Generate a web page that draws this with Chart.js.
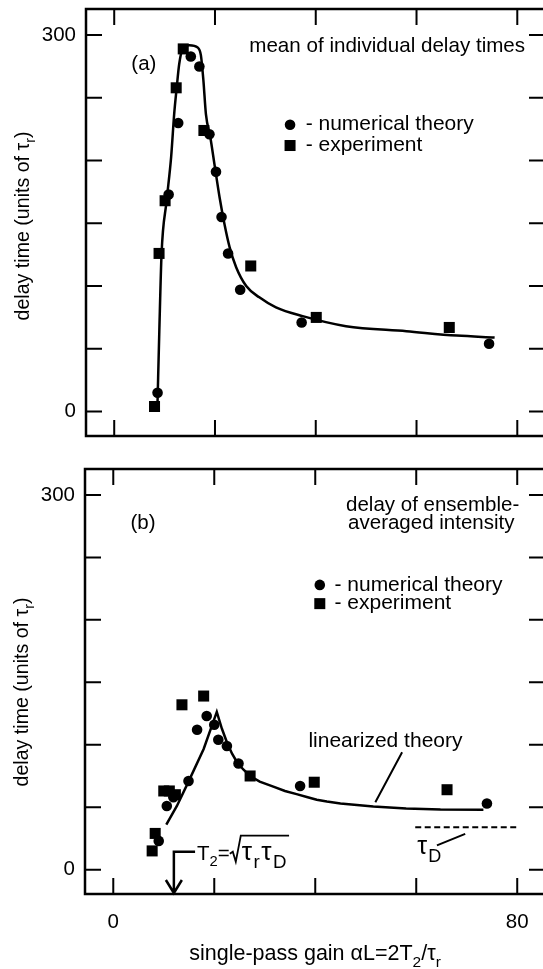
<!DOCTYPE html>
<html>
<head>
<meta charset="utf-8">
<script src="https://cdn.jsdelivr.net/npm/chart.js@4.4.0/dist/chart.umd.min.js"></script>
<style>
  html, body { margin: 0; padding: 0; background: #fff; overflow: hidden; }
  #wrap { position: relative; width: 543px; height: 969px; overflow: hidden; }
  canvas { position: absolute; left: 0; }
</style>
</head>
<body>
<div id="wrap">
  <canvas id="chartA" width="560" height="450" style="top:0"></canvas>
  <canvas id="chartB" width="560" height="519" style="top:450px"></canvas>
</div>
<script>
const FONT = '"Liberation Sans", Arial, Helvetica, sans-serif';
Chart.defaults.font.family = FONT;
Chart.defaults.color = '#000';

// axes
const xRange = [-5.6, 85.5];
const yRange = [-19.5, 320.8];
const xTicks = [0, 20, 40, 60, 80];
const yTicks = [0, 50, 100, 150, 200, 250, 300];
const xLabels = [0, 80];
const yLabels = [0, 300];
const legendLabels = ['- numerical theory', '- experiment'];

// panel (a): mean of individual delay times
const aTheoryX = [8.6, 10.8, 12.7, 15.2, 16.9, 18.9, 20.2, 21.3, 22.6, 25.0, 37.2, 74.4];
const aTheoryY = [15, 173, 230, 283, 275, 221, 191, 155, 126, 97, 71, 54];
const aExpX = [8.0, 8.9, 10.1, 12.3, 13.7, 17.8, 27.1, 40.1, 66.5];
const aExpY = [4, 126, 168, 258, 289, 224, 116, 75, 67];
const aCurveX = [8.6, 8.95, 9.4, 10.4, 11.3, 11.9, 12.4, 12.9, 13.6, 14.9, 16.6, 17.2, 17.7, 18.2, 19.1, 19.9, 20.9, 21.9, 22.9, 24.2, 26.2, 28.8, 32.1, 37.4, 46, 58, 68, 75.5];
const aCurveY = [8, 64, 126, 168, 203, 237, 258, 277, 289, 292, 290, 284, 264, 237, 218, 197, 171, 149, 131, 115, 100, 91, 83, 76, 68, 64, 60.5, 59];

// panel (b): delay of ensemble-averaged intensity
const bTheoryX = [9.0, 10.6, 11.9, 14.9, 16.6, 18.5, 20.0, 20.8, 22.5, 24.8, 37.0, 74.0];
const bTheoryY = [23, 51, 58, 71, 112, 123, 116, 104, 99, 85, 67, 53];
const bExpX = [7.7, 8.3, 10.0, 11.1, 12.3, 13.6, 17.9, 27.1, 39.8, 66.1];
const bExpY = [15, 29, 63, 63, 60, 132, 139, 75, 70, 64];
const bLinX = [10.5, 12.6, 14.9, 17.9, 20.5, 21.5, 22.5, 23.5, 24.5, 25.8, 27.1, 29, 31.7, 34, 36.3, 38.5, 40.3, 42.3, 45, 51.5, 58, 64.8, 73.3];
const bLinY = [36, 51, 70.5, 96.6, 126.3, 113, 102, 93, 86, 80, 75, 70.5, 66.5, 63, 60.5, 58, 56, 54.5, 53, 50.5, 49, 48.1, 47.9];
const tauDX = [59.8, 79.8];
const tauDY = [34, 34];

const TXT = 20.5;

function zip(xs, ys) {
    return xs.map((x, i) => ({x: x, y: ys[i]}));
}

function f(size) {
    return size + 'px ' + FONT;
}

// text with subscripts, parts = [[text, isSub], ...]
function rich(ctx, parts, x, y, size, align, gap) {
    gap = gap || 0;
    let w = 0;
    parts.forEach(p => {
        ctx.font = f(p[1] ? size * 0.72 : size);
        w += ctx.measureText(p[0]).width + gap;
    });
    let cx = align == 'center' ? x - w / 2 : x;
    ctx.textBaseline = 'alphabetic';
    ctx.textAlign = 'left';
    parts.forEach(p => {
        ctx.font = f(p[1] ? size * 0.72 : size);
        ctx.fillText(p[0], cx, p[1] ? y + size * 0.32 : y);
        cx += ctx.measureText(p[0]).width + gap;
    });
    return cx;
}

function yTitle(ctx, cx, cy) {
    ctx.save();
    ctx.translate(cx + 7, cy);
    ctx.rotate(-Math.PI / 2);
    rich(ctx, [['delay time (units of \u03c4', 0], ['r', 1], [')', 0]], 0, 0, 19.6, 'center');
    ctx.restore();
}

function legendKey(ctx, mx, yc, ys, tx) {
    ctx.beginPath();
    ctx.arc(mx, yc, 5.3, 0, Math.PI * 2);
    ctx.fill();
    ctx.fillRect(mx - 5.5, ys - 5.5, 11, 11);
    ctx.font = f(21);
    ctx.textBaseline = 'middle';
    ctx.textAlign = 'left';
    ctx.fillText(legendLabels[0], tx, yc);
    ctx.fillText(legendLabels[1], tx, ys);
}

const framePlugin = {
    id: 'frame',
    afterDatasetsDraw(chart) {
        const ctx = chart.ctx;
        const a = chart.chartArea;
        const x = chart.scales.x, y = chart.scales.y;
        const len = 16;
        ctx.save();
        ctx.strokeStyle = '#000';
        ctx.lineWidth = 2;
        ctx.beginPath();
        yTicks.forEach(v => {
            const py = y.getPixelForValue(v);
            ctx.moveTo(a.left, py); ctx.lineTo(a.left + len, py);
            ctx.moveTo(a.right, py); ctx.lineTo(a.right - len, py);
        });
        xTicks.forEach(v => {
            const px = x.getPixelForValue(v);
            ctx.moveTo(px, a.top); ctx.lineTo(px, a.top + len);
            ctx.moveTo(px, a.bottom); ctx.lineTo(px, a.bottom - len);
        });
        ctx.stroke();
        ctx.lineWidth = 2.5;
        ctx.strokeRect(a.left, a.top, a.right - a.left, a.bottom - a.top);
        ctx.restore();
    }
};

const notesA = {
    id: 'notesA',
    afterDraw(chart) {
        const ctx = chart.ctx;
        const x = chart.scales.x, y = chart.scales.y;
        ctx.save();
        ctx.fillStyle = '#000';
        ctx.font = f(TXT);
        ctx.textBaseline = 'middle';
        ctx.fillText('(a)', x.getPixelForValue(3.4), y.getPixelForValue(277));
        ctx.font = f(20.6);
        ctx.fillText('mean of individual delay times', x.getPixelForValue(26.8), y.getPixelForValue(291));
        legendKey(ctx, x.getPixelForValue(34.9), y.getPixelForValue(228.6), y.getPixelForValue(212), x.getPixelForValue(38));
        yTitle(ctx, 22, 226);
        ctx.restore();
    }
};

const notesB = {
    id: 'notesB',
    afterDraw(chart) {
        const ctx = chart.ctx;
        const a = chart.chartArea;
        const x = chart.scales.x, y = chart.scales.y;
        ctx.save();
        ctx.fillStyle = '#000';
        ctx.strokeStyle = '#000';
        ctx.font = f(TXT);
        ctx.textBaseline = 'middle';
        ctx.fillText('(b)', x.getPixelForValue(3.4), y.getPixelForValue(277));
        ctx.fillText('delay of ensemble-', x.getPixelForValue(46.1), y.getPixelForValue(292));
        ctx.fillText('averaged intensity', x.getPixelForValue(46.5), y.getPixelForValue(277));
        legendKey(ctx, x.getPixelForValue(40.9), y.getPixelForValue(228), y.getPixelForValue(213), x.getPixelForValue(43.8));

        ctx.textAlign = 'center';
        ctx.font = f(21);
        ctx.fillText('linearized theory', x.getPixelForValue(53.9), y.getPixelForValue(103));

        // leader lines
        ctx.lineWidth = 2;
        ctx.beginPath();
        ctx.moveTo(x.getPixelForValue(51.9), y.getPixelForValue(54));
        ctx.lineTo(x.getPixelForValue(57.2), y.getPixelForValue(94));
        ctx.moveTo(x.getPixelForValue(64.1), y.getPixelForValue(19.4));
        ctx.lineTo(x.getPixelForValue(69.7), y.getPixelForValue(28.7));
        ctx.stroke();

        // tau_D label
        rich(ctx, [['\u03c4', 0], ['D', 1]], x.getPixelForValue(60.2), y.getPixelForValue(12.8), 25, 'left', 1);

        // arrow at T2 = sqrt(tau_r tau_D)
        const ax = x.getPixelForValue(12);
        const atop = y.getPixelForValue(14.4);
        const tip = a.bottom - 1;
        ctx.lineWidth = 2.5;
        ctx.beginPath();
        ctx.moveTo(x.getPixelForValue(16.2), atop);
        ctx.lineTo(ax, atop);
        ctx.lineTo(ax, tip);
        ctx.moveTo(ax - 8, tip - 13);
        ctx.lineTo(ax, tip);
        ctx.lineTo(ax + 8, tip - 13);
        ctx.stroke();

        const by = y.getPixelForValue(8);
        let cx = rich(ctx, [['T', 0], ['2', 1], ['=', 0]], x.getPixelForValue(16.6), by, 20.5, 'left');
        const rest = [['\u03c4', 0], ['r', 1], ['\u03c4', 0], ['D', 1]];
        ctx.lineWidth = 1.8;
        ctx.beginPath();
        ctx.moveTo(cx, by - 6);
        ctx.lineTo(cx + 3, by - 8);
        ctx.lineTo(cx + 6, by + 2);
        ctx.lineTo(cx + 11, by - 24);
        const end = rich(ctx, rest, cx + 12, by, 26, 'left', 1.5);
        ctx.lineTo(end + 1, by - 24);
        ctx.stroke();

        // axis titles
        yTitle(ctx, 21, 242);
        rich(ctx, [['single-pass gain \u03b1L=2T', 0], ['2', 1], ['/\u03c4', 0], ['r', 1]], 315, 510, 21.5, 'center');
        ctx.restore();
    }
};

function makeOptions(padding, yWidth, showX) {
    return {
        animation: false,
        responsive: false,
        events: [],
        layout: {padding: padding},
        plugins: {legend: {display: false}, tooltip: {enabled: false}},
        scales: {
            x: {
                type: 'linear',
                min: xRange[0],
                max: xRange[1],
                display: showX,
                grid: {display: false, drawTicks: false},
                border: {display: false},
                afterBuildTicks: s => { s.ticks = xLabels.map(v => ({value: v})); },
                afterFit: s => {
                    s.height = showX ? 75 : 0;
                    s.paddingLeft = 0; s.paddingRight = 0;
                },
                ticks: {font: {size: 20.5}, color: '#000', padding: 16, maxRotation: 0}
            },
            y: {
                type: 'linear',
                min: yRange[0],
                max: yRange[1],
                grid: {display: false, drawTicks: false},
                border: {display: false},
                afterBuildTicks: s => { s.ticks = yLabels.map(v => ({value: v})); },
                afterFit: s => {
                    s.width = yWidth;
                    s.paddingTop = 0; s.paddingBottom = 0;
                },
                ticks: {font: {size: 20.5}, color: '#000', padding: 10}
            }
        }
    };
}

function pointsSet(xs, ys, style, r) {
    return {
        data: zip(xs, ys),
        pointStyle: style,
        pointRadius: r,
        backgroundColor: '#000',
        borderColor: '#000',
        borderWidth: 0,
        showLine: false
    };
}

function lineSet(xs, ys, extra) {
    return Object.assign({
        data: zip(xs, ys),
        showLine: true,
        pointRadius: 0,
        borderColor: '#000',
        borderWidth: 2.5,
        fill: false
    }, extra);
}

new Chart('chartA', {
    type: 'scatter',
    data: {
        datasets: [
            lineSet(aCurveX, aCurveY, {cubicInterpolationMode: 'monotone'}),
            pointsSet(aTheoryX, aTheoryY, 'circle', 5.3),
            pointsSet(aExpX, aExpY, 'rect', 7.8)
        ]
    },
    options: makeOptions({top: 9, right: 15, bottom: 14, left: 0}, 86, false),
    plugins: [framePlugin, notesA]
});

new Chart('chartB', {
    type: 'scatter',
    data: {
        datasets: [
            lineSet(bLinX, bLinY, {tension: 0}),
            lineSet(tauDX, tauDY, {tension: 0, borderWidth: 2, borderDash: [6, 3.5]}),
            pointsSet(bTheoryX, bTheoryY, 'circle', 5.3),
            pointsSet(bExpX, bExpY, 'rect', 7.8)
        ]
    },
    options: makeOptions({top: 19, right: 15, bottom: 0, left: 0}, 85, true),
    plugins: [framePlugin, notesB]
});
</script>
</body>
</html>
